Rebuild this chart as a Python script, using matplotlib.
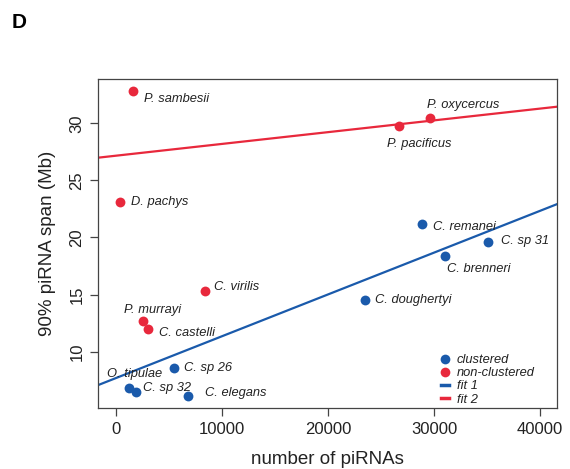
import matplotlib
matplotlib.use("Agg")
import matplotlib.pyplot as plt
from matplotlib.lines import Line2D
import numpy as np

plt.rcParams['font.family'] = ['Liberation Sans', 'DejaVu Sans']

# ---- data ----
species = ["P. sambesii", "P. oxycercus", "P. pacificus", "D. pachys", "C. virilis",
           "P. murrayi", "C. castelli",
           "C. remanei", "C. sp 31", "C. brenneri", "C. doughertyi", "C. sp 26",
           "O. tipulae", "C. sp 32", "C. elegans"]
n_pirnas = [1630, 29620, 26700, 400, 8390, 2550, 3020,
            28880, 35080, 31040, 23490, 5520, 1250, 1940, 6790]
span_mb = [32.83, 30.46, 29.76, 23.11, 15.32, 12.71, 11.96,
           21.18, 19.61, 18.38, 14.53, 8.55, 6.80, 6.50, 6.15]
group = ["non-clustered"] * 7 + ["clustered"] * 8

fit1_intercept, fit1_slope = 7.68, 3.664e-4   # clustered
fit2_intercept, fit2_slope = 27.16, 1.032e-4  # non-clustered

x_ticks = [0, 10000, 20000, 30000, 40000]
y_ticks = [10, 15, 20, 25, 30]

# ---- style ----
BLUE = "#1a5aab"
RED = "#e8283c"
colors = {"clustered": BLUE, "non-clustered": RED}
label_offsets = {  # pixels (dx, dy), ha
    "P. sambesii": (11, -8, "left"),
    "P. oxycercus": (-3, 13, "left"),
    "P. pacificus": (-12, -18, "left"),
    "D. pachys": (11, 0, "left"),
    "C. virilis": (9, 4, "left"),
    "P. murrayi": (-19, 11, "left"),
    "C. castelli": (11, -4, "left"),
    "C. remanei": (11, -3, "left"),
    "C. sp 31": (13, 1, "left"),
    "C. brenneri": (2, -13, "left"),
    "C. doughertyi": (10, 0, "left"),
    "C. sp 26": (10, 0, "left"),
    "O. tipulae": (-22, 14, "left"),
    "C. sp 32": (7, 4, "left"),
    "C. elegans": (17, 3, "left"),
}

fig = plt.figure(figsize=(5.7, 4.69), dpi=100)
ax = fig.add_axes([98.3 / 570, 1 - 408.3 / 469, (556.7 - 98.3) / 570, (408.3 - 79) / 469])

xlim = (-1640, 41565)
ax.set_xlim(*xlim)
ax.set_ylim(5.04, 33.88)

xs = np.array(xlim)
ax.plot(xs, fit2_intercept + fit2_slope * xs, color=RED, lw=1.6, zorder=2)
ax.plot(xs, fit1_intercept + fit1_slope * xs, color=BLUE, lw=1.6, zorder=2)

for name, x, y, g in zip(species, n_pirnas, span_mb, group):
    ax.scatter([x], [y], s=50, color=colors[g], zorder=3, linewidths=0)
    dx, dy, ha = label_offsets[name]
    ax.annotate(name, (x, y), xytext=(dx, dy), textcoords="offset pixels",
                ha=ha, va="center", fontsize=9.3, style="italic", color="#222222")

ax.set_xticks(x_ticks)
ax.set_xticklabels([str(v) for v in x_ticks])
ax.set_yticks(y_ticks)
ax.set_yticklabels([str(v) for v in y_ticks], rotation=90, va="center")
ax.tick_params(axis="both", length=6, width=0.9, color="#444444", labelsize=12,
               labelcolor="#222222", pad=4)
for sp in ax.spines.values():
    sp.set_color("#444444")
    sp.set_linewidth(0.9)

ax.set_xlabel("number of piRNAs", fontsize=13.5, color="#222222", labelpad=10)
ax.set_ylabel("90% piRNA span (Mb)", fontsize=13.5, color="#222222", labelpad=10)

handles = [
    Line2D([], [], marker="o", ls="none", color=BLUE, markersize=7, markeredgewidth=0),
    Line2D([], [], marker="o", ls="none", color=RED, markersize=7, markeredgewidth=0),
    Line2D([], [], color=BLUE, lw=2.5),
    Line2D([], [], color=RED, lw=2.5),
]
leg = ax.legend(handles, ["clustered", "non-clustered", "fit 1", "fit 2"],
                loc="lower left", bbox_to_anchor=(0.722, -0.027), frameon=False,
                handlelength=0.6, handletextpad=0.65, labelspacing=0.08,
                prop={"size": 9.3, "style": "italic"})
for t in leg.get_texts():
    t.set_color("#222222")

fig.text(12 / 570, 1 - 22 / 469, "D", fontsize=15, fontweight="bold", va="center", ha="left")

fig.savefig("out.png", dpi=100)
